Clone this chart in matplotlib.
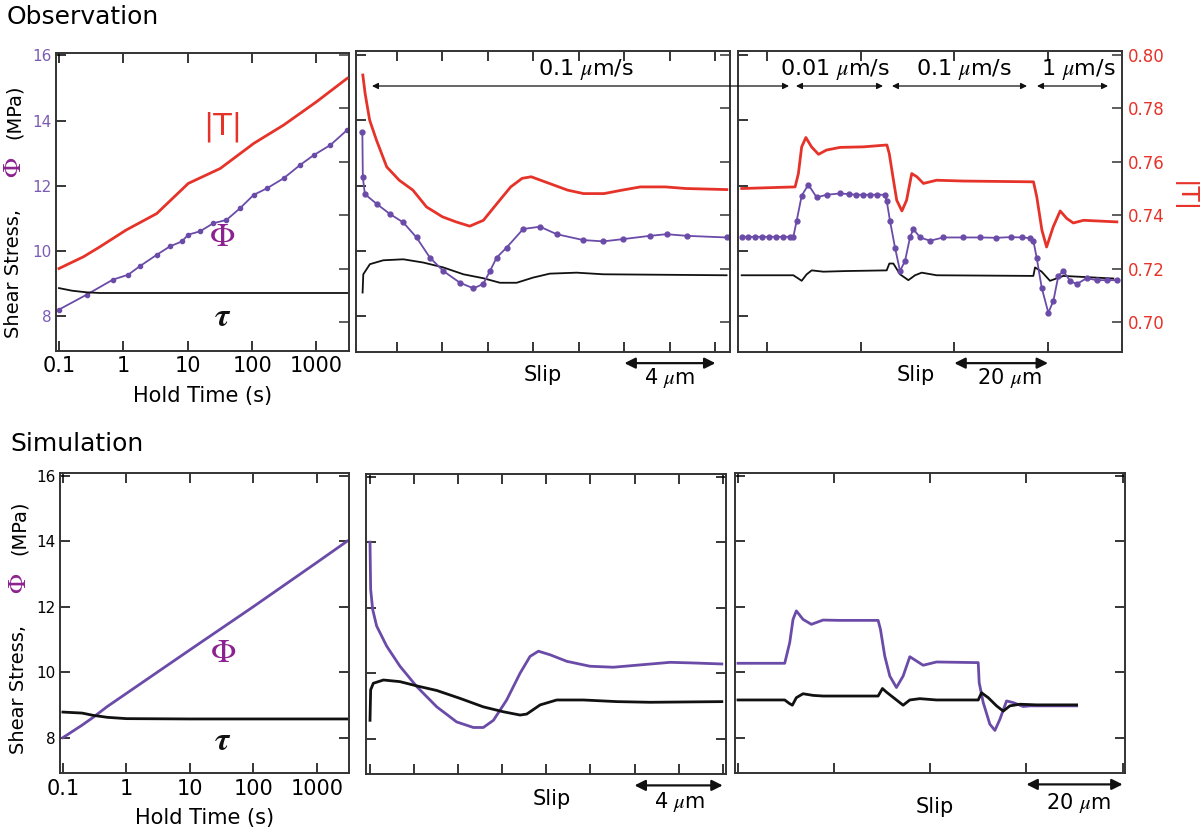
import matplotlib.pyplot as plt
from matplotlib.patches import FancyArrowPatch
from matplotlib.ticker import FixedLocator, NullFormatter, LogLocator

W, H = 1200, 831
RED = '#e6332a'
PURPLE = '#6b4ba8'
PHI_COLOR = '#8c2290'
TICK_PURPLE = '#7a5cb4'
BLACK = '#111111'

plt.rcParams['mathtext.fontset'] = 'stix'
plt.rcParams['font.family'] = ['DejaVu Sans']

# ---------------- Observation: hold test ----------------
obs_hold_t_T = [0.1, 0.24, 0.43, 1.1, 3.3, 10.2, 32, 106, 310, 1000, 3000]
obs_hold_T = [0.7200, 0.7244, 0.7281, 0.7344, 0.7406, 0.7519, 0.7575, 0.7669, 0.7738, 0.7825, 0.7913]
obs_hold_t_phi = [0.1, 0.27, 0.69, 1.19, 1.8, 3.3, 5.3, 8.1, 10.2, 15.5, 25, 40, 65, 106, 170,
                  310, 560, 910, 1650, 3000]
obs_hold_phi = [8.20, 8.66, 9.12, 9.27, 9.53, 9.88, 10.14, 10.29, 10.50, 10.60, 10.85, 10.95,
                11.31, 11.72, 11.92, 12.23, 12.64, 12.94, 13.25, 13.71]
obs_hold_t_tau = [0.1, 0.16, 0.27, 0.43, 1.0, 10, 100, 1000, 3000]
obs_hold_tau = [8.86, 8.78, 8.73, 8.71, 8.71, 8.71, 8.71, 8.71, 8.71]

# ---------------- Observation: 0.1 um/s slide ----------------
obs_v1_x_T = [-1.5, -1.4, -1.2, -0.9, -0.45, 0.1, 0.7, 1.3, 2.0, 2.6, 3.2, 3.8, 4.4, 5.0, 5.5,
              5.9, 6.7, 7.5, 8.2, 9.1, 9.9, 10.7, 11.8, 12.7, 14.5]
obs_v1_T = [0.7925, 0.7856, 0.7756, 0.7681, 0.7581, 0.7531, 0.7494, 0.7431, 0.7394, 0.7375,
            0.7359, 0.7381, 0.7444, 0.7506, 0.7538, 0.7544, 0.7519, 0.7494, 0.7481, 0.7481,
            0.7494, 0.7506, 0.7506, 0.7500, 0.7496]
obs_v1_x_phi = [-1.52, -1.50, -1.41, -0.89, -0.31, 0.28, 0.86, 1.45, 2.04, 2.77, 3.36, 3.79,
                4.09, 4.38, 4.82, 5.55, 6.29, 7.02, 8.19, 9.07, 9.95, 11.12, 11.85, 12.73, 14.49]
obs_v1_phi = [13.64, 12.26, 11.74, 11.44, 11.13, 10.87, 10.41, 9.79, 9.38, 9.02, 8.85, 8.98,
              9.38, 9.79, 10.10, 10.67, 10.74, 10.51, 10.33, 10.29, 10.36, 10.46, 10.51, 10.46,
              10.41]
obs_v1_x_tau = [-1.51, -1.48, -1.19, -0.60, 0.28, 1.16, 2.04, 2.92, 3.79, 4.53, 5.26, 5.99,
                6.72, 7.90, 9.07, 14.49]
obs_v1_tau = [8.72, 9.28, 9.59, 9.71, 9.74, 9.64, 9.49, 9.28, 9.16, 9.02, 9.02, 9.18, 9.30,
              9.33, 9.28, 9.25]

# ---------------- Observation: velocity steps ----------------
obs_vs_x_T = [-5.4, 6.0, 6.7, 7.4, 8.3, 9.5, 11.0, 12.7, 15.6, 20.6, 25.6, 26.1, 27.0, 27.7,
              28.8, 29.8, 30.9, 32.0, 33.4, 36.2, 41.9, 56.9, 57.6, 58.7, 59.7, 61.1, 62.6,
              64.0, 65.4, 67.6, 74.7]
obs_vs_T = [0.7500, 0.7506, 0.7556, 0.7656, 0.7691, 0.7656, 0.7628, 0.7644, 0.7654, 0.7656,
            0.7663, 0.7631, 0.7531, 0.7456, 0.7416, 0.7456, 0.7556, 0.7544, 0.7519, 0.7531,
            0.7528, 0.7525, 0.7469, 0.7344, 0.7281, 0.7356, 0.7416, 0.7388, 0.7371, 0.7381,
            0.7375]
obs_vs_x_phi = [-5.41, -4.0, -2.5, -1.0, 0.5, 2.0, 3.5, 5.0, 5.62, 6.33, 7.40, 8.82, 10.6,
                12.74, 15.59, 17.5, 19.0, 20.57, 22.0, 23.5, 25.19, 25.55, 26.26, 27.33, 28.4,
                29.47, 30.53, 31.25, 32.67, 34.81, 37.66, 41.92, 45.5, 49.0, 52.0, 54.5, 56.16,
                56.87, 57.58, 58.65, 60.07, 61.14, 62.21, 63.28, 64.7, 66.13, 68.26, 70.39,
                72.5, 74.67]
obs_vs_phi = [10.43, 10.43, 10.43, 10.43, 10.43, 10.43, 10.43, 10.43, 10.43, 10.92, 11.69,
              12.03, 11.64, 11.72, 11.76, 11.74, 11.72, 11.72, 11.72, 11.72, 11.72, 11.54,
              10.92, 10.10, 9.38, 9.69, 10.41, 10.67, 10.41, 10.31, 10.41, 10.41, 10.41, 10.40,
              10.42, 10.41, 10.39, 10.31, 9.79, 8.87, 8.10, 8.46, 9.23, 9.38, 9.08, 8.98, 9.16,
              9.10, 9.10, 9.10]
obs_vs_x_tau = [-5.41, 5.62, 6.69, 7.40, 8.47, 9.54, 12.03, 17.01, 25.55, 26.12, 26.98, 28.40,
                30.18, 31.61, 33.03, 36.23, 56.87, 57.23, 58.65, 60.43, 63.28, 73.96]
obs_vs_tau = [9.25, 9.25, 9.15, 9.08, 9.28, 9.40, 9.36, 9.38, 9.40, 9.61, 9.61, 9.28, 9.10,
              9.25, 9.33, 9.25, 9.23, 9.49, 9.36, 9.08, 9.23, 9.15]

# ---------------- Simulation: hold test ----------------
sim_hold_t = [0.1, 0.2, 0.3, 0.5, 1, 10, 100, 1000, 3000]
sim_hold_phi = [8.0, 8.38, 8.62, 8.95, 9.35, 10.68, 12.0, 13.35, 14.0]
sim_hold_tau = [8.78, 8.75, 8.68, 8.62, 8.58, 8.57, 8.57, 8.57, 8.57]

# ---------------- Simulation: 0.1 um/s slide ----------------
sim_v1_x_phi = [0.0, 0.03, 0.12, 0.30, 0.76, 1.36, 2.12, 3.03, 3.93, 4.69, 5.14, 5.60, 6.20,
                6.81, 7.26, 7.64, 8.17, 8.93, 9.98, 11.04, 12.41, 13.62, 14.67, 15.96]
sim_v1_phi = [14.0, 12.56, 11.95, 11.44, 10.82, 10.21, 9.59, 8.97, 8.51, 8.34, 8.34, 8.56,
              9.18, 10.0, 10.51, 10.67, 10.56, 10.36, 10.21, 10.18, 10.26, 10.33, 10.31, 10.28]
sim_v1_x_tau = [0.0, 0.03, 0.15, 0.61, 1.36, 2.12, 3.03, 4.08, 5.14, 6.05, 6.81, 7.11, 7.72,
                8.47, 9.68, 11.2, 12.71, 15.96]
sim_v1_tau = [8.56, 9.49, 9.69, 9.79, 9.74, 9.61, 9.47, 9.23, 8.97, 8.82, 8.72, 8.75, 9.03,
              9.18, 9.18, 9.13, 9.11, 9.13]

# ---------------- Simulation: velocity steps ----------------
sim_vs_x_phi = [0, 9.72, 10.76, 11.45, 12.14, 13.53, 15.27, 17.70, 21.17, 29.15, 29.63, 30.53,
                31.58, 32.96, 34.35, 35.74, 37.13, 38.51, 41.29, 49.97, 50.17, 51.01, 52.39,
                53.44, 54.48, 55.86, 57.25, 59.33, 60.72, 70.44]
sim_vs_phi = [10.27, 10.27, 10.90, 11.61, 11.87, 11.61, 11.46, 11.59, 11.58, 11.58, 11.31,
              10.49, 9.88, 9.53, 9.88, 10.47, 10.34, 10.21, 10.31, 10.29, 9.68, 9.07, 8.41,
              8.22, 8.56, 9.12, 9.07, 8.95, 8.97, 8.97]
sim_vs_x_tau = [0, 9.72, 10.62, 11.31, 12.14, 13.53, 15.61, 17.70, 29.15, 30.05, 30.88, 32.96,
                34.35, 35.74, 37.82, 41.29, 49.97, 50.66, 52.05, 53.78, 55.17, 56.56, 58.64,
                62.11, 70.44]
sim_vs_tau = [9.15, 9.15, 9.05, 8.99, 9.22, 9.34, 9.29, 9.27, 9.27, 9.50, 9.39, 9.15, 8.99,
              9.15, 9.19, 9.15, 9.15, 9.37, 9.22, 8.97, 8.81, 8.97, 9.02, 9.0, 9.0]

hold_ticks = [0.1, 1, 10, 100, 1000]
hold_ticklabels = ['0.1', '1', '10', '100', '1000']
stress_ticks = [8, 10, 12, 14, 16]
T_ticks = [0.70, 0.72, 0.74, 0.76, 0.78, 0.80]


def box(x0, y0, x1, y1):
    return [x0 / W, 1 - y1 / H, (x1 - x0) / W, (y1 - y0) / H]


def fp(x, y):
    return (x / W, 1 - y / H)


def frame(ax):
    ax.tick_params(direction='in', which='both', top=True, width=1.1, length=7)
    ax.tick_params(which='minor', length=4)
    for s in ax.spines.values():
        s.set_linewidth(1.4)
        s.set_color('#333333')


def twin_T(ax, ylim, labels=False):
    tw = ax.twinx()
    tw.set_ylim(*ylim)
    tw.yaxis.set_major_locator(FixedLocator(T_ticks))
    tw.tick_params(direction='in', width=1.1, length=7, labelsize=12, colors=RED, pad=4)
    tw.tick_params(axis='y', color='#333333')
    if labels:
        tw.set_yticklabels(['%.2f' % v for v in T_ticks])
    else:
        tw.set_yticklabels([])
    for s in tw.spines.values():
        s.set_visible(False)
    return tw


fig = plt.figure(figsize=(12, 8.31), dpi=100)

ax1 = fig.add_axes(box(56, 52.7, 349, 350.7))
ax2 = fig.add_axes(box(356, 50.7, 730, 351.7))
ax3 = fig.add_axes(box(737.7, 50.7, 1122, 351.7))
ax4 = fig.add_axes(box(60, 473, 349, 773))
ax5 = fig.add_axes(box(365.7, 474, 726, 774))
ax6 = fig.add_axes(box(735, 473, 1125, 773))

# hold-time panels
for ax, lim in [(ax1, (6.94, 16.08)), (ax4, (6.92, 16.08))]:
    ax.set_xscale('log')
    ax.set_xlim(0.09, 3200)
    ax.set_ylim(*lim)
    frame(ax)
    ax.xaxis.set_major_locator(FixedLocator(hold_ticks))
    ax.set_xticklabels(hold_ticklabels)
    ax.xaxis.set_minor_locator(LogLocator(base=10, subs=range(2, 10)))
    ax.xaxis.set_minor_formatter(NullFormatter())
    ax.yaxis.set_major_locator(FixedLocator(stress_ticks))
    ax.tick_params(axis='x', labelsize=15, pad=4)
    ax.tick_params(axis='y', labelsize=11, pad=3)
    ax.set_xlabel('Hold Time (s)', fontsize=15, labelpad=7)

ax1.tick_params(axis='y', right=False, labelcolor=TICK_PURPLE)
tw1 = twin_T(ax1, (0.6892, 0.8009))
ax4.tick_params(axis='y', right=True)

ax1.plot(obs_hold_t_phi, obs_hold_phi, color=PURPLE, lw=1.3, marker='o', ms=3)
ax1.plot(obs_hold_t_tau, obs_hold_tau, color=BLACK, lw=1.3)
tw1.plot(obs_hold_t_T, obs_hold_T, color=RED, lw=2)

ax4.plot(sim_hold_t, sim_hold_phi, color=PURPLE, lw=2)
ax4.plot(sim_hold_t, sim_hold_tau, color=BLACK, lw=2)

# slide panels
ax2.set_xlim(-1.80, 14.64)
ax3.set_xlim(-6.26, 75.8)
ax5.set_xlim(-0.195, 16.15)
ax6.set_xlim(-0.62, 80.5)
ax2.xaxis.set_major_locator(FixedLocator(range(0, 15, 2)))
ax3.xaxis.set_major_locator(FixedLocator([0, 20, 40, 60]))
ax5.xaxis.set_major_locator(FixedLocator(range(0, 17, 2)))
ax6.xaxis.set_major_locator(FixedLocator([0, 20, 40, 60, 80]))

for ax in (ax2, ax3):
    ax.set_ylim(6.905, 16.14)
for ax in (ax5, ax6):
    ax.set_ylim(6.92, 16.08)

for ax in (ax2, ax3, ax5, ax6):
    frame(ax)
    ax.yaxis.set_major_locator(FixedLocator(stress_ticks))
    ax.set_xticklabels([])
    ax.set_yticklabels([])
for ax in (ax2, ax3):
    ax.tick_params(axis='y', right=False)
for ax in (ax5, ax6):
    ax.tick_params(axis='y', right=True)

tw2 = twin_T(ax2, (0.6889, 0.8016))
tw3 = twin_T(ax3, (0.6889, 0.8016), labels=True)

ax2.plot(obs_v1_x_tau, obs_v1_tau, color=BLACK, lw=1.3)
ax2.plot(obs_v1_x_phi, obs_v1_phi, color=PURPLE, lw=1.3, marker='o', ms=3.5)
tw2.plot(obs_v1_x_T, obs_v1_T, color=RED, lw=2)

ax3.plot(obs_vs_x_tau, obs_vs_tau, color=BLACK, lw=1.3)
ax3.plot(obs_vs_x_phi, obs_vs_phi, color=PURPLE, lw=1.3, marker='o', ms=3.5)
tw3.plot(obs_vs_x_T, obs_vs_T, color=RED, lw=2)

ax5.plot(sim_v1_x_phi, sim_v1_phi, color=PURPLE, lw=2)
ax5.plot(sim_v1_x_tau, sim_v1_tau, color=BLACK, lw=2)
ax6.plot(sim_vs_x_phi, sim_vs_phi, color=PURPLE, lw=2)
ax6.plot(sim_vs_x_tau, sim_vs_tau, color=BLACK, lw=2)

# titles
fig.text(*fp(7, 17), 'Observation', fontsize=18, ha='left', va='center')
fig.text(*fp(10, 444), 'Simulation', fontsize=18, ha='left', va='center')

# y labels in pieces (Phi coloured)
for xc, ys, yp, ym in [(14, 273, 167, 112), (19, 690, 583, 528)]:
    fig.text(*fp(xc, ys), 'Shear Stress,', rotation=90, fontsize=14, ha='center', va='center')
    fig.text(*fp(xc, yp), r'$\Phi$', rotation=90, fontsize=19, color=PHI_COLOR,
             ha='center', va='center')
    fig.text(*fp(xc, ym), '(MPa)', rotation=90, fontsize=14, ha='center', va='center')

# curve labels
fig.text(*fp(223, 127), '|T|', color=RED, fontsize=22, ha='center', va='center')
fig.text(*fp(222, 237), r'$\Phi$', color=PHI_COLOR, fontsize=24, ha='center', va='center')
fig.text(*fp(223, 317), r'$\boldsymbol{\tau}$', color=BLACK, fontsize=24, ha='center', va='center')
fig.text(*fp(223, 652), r'$\Phi$', color=PHI_COLOR, fontsize=24, ha='center', va='center')
fig.text(*fp(223, 740), r'$\boldsymbol{\tau}$', color=BLACK, fontsize=24, ha='center', va='center')

# right axis label
fig.text(*fp(1184, 197), '|T|', color=RED, fontsize=18, rotation=270, ha='center', va='center')

# velocity labels and arrows (figure level so they sit above the panels)
vel = [('0.1 $\\mu$m/s', 586, 372, 789), ('0.01 $\\mu$m/s', 835, 796, 883),
       ('0.1 $\\mu$m/s', 964, 892, 1027), ('1 $\\mu$m/s', 1078, 1037, 1108)]
for lab, xc, xa, xb in vel:
    fig.text(*fp(xc, 69), lab, fontsize=16, ha='center', va='center')
    fig.add_artist(FancyArrowPatch(fp(xa, 86), fp(xb, 86), transform=fig.transFigure,
                                   arrowstyle='<|-|>', mutation_scale=9, lw=0.9,
                                   color=BLACK, shrinkA=0, shrinkB=0, zorder=5))

# slip scale bars
bars = [(ax2, 10, 14, 543, 375, '4 $\\mu$m', 670, 378),
        (ax3, 40, 60, 916, 375, '20 $\\mu$m', 1009, 378),
        (ax5, 12, 16, 552, 799, '4 $\\mu$m', 680, 802),
        (ax6, 60, 80, 935, 807, '20 $\\mu$m', 1078, 803)]
for ax, xa, xb, sx, sy, lab, lx, ly in bars:
    ax.annotate('', xy=(xb, -0.038), xytext=(xa, -0.038), xycoords=('data', 'axes fraction'),
                textcoords=('data', 'axes fraction'), annotation_clip=False,
                arrowprops=dict(arrowstyle='<|-|>', mutation_scale=16, lw=1.6, color=BLACK,
                                shrinkA=0, shrinkB=0))
    fig.text(*fp(sx, sy), 'Slip', fontsize=15, ha='center', va='center')
    fig.text(*fp(lx, ly), lab, fontsize=15, ha='center', va='center')

fig.savefig('out.png', dpi=100)
